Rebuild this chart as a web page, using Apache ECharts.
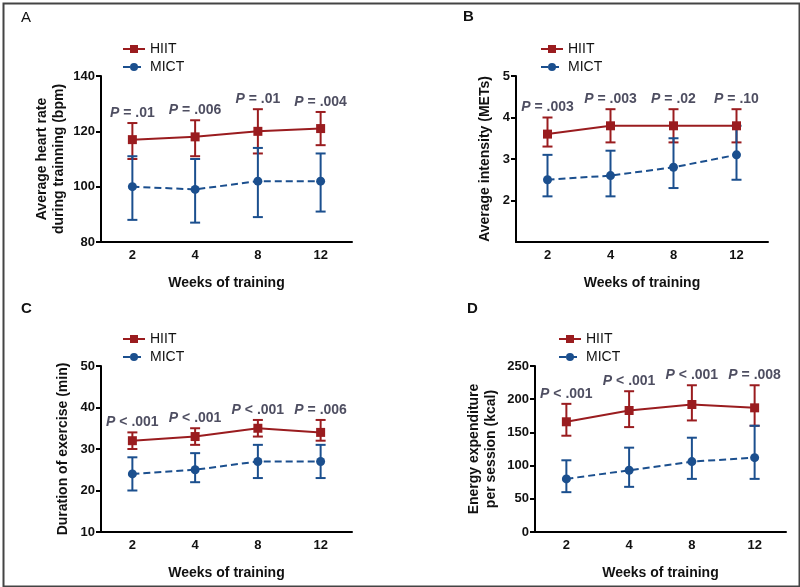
<!DOCTYPE html>
<html>
<head>
<meta charset="utf-8">
<script src="https://cdn.jsdelivr.net/npm/echarts@6/dist/echarts.min.js"></script>
<style>
html,body{margin:0;padding:0;background:#fff;}
#chart{width:800px;height:587px;}
</style>
</head>
<body>
<div id="chart"></div>
<script>
// ---------- data ----------
const weeks = ['2', '4', '8', '12'];

// Panel A: average heart rate (bpm)
const hrHIIT = [117, 118, 120, 121];
const hrHIITLow = [110, 111, 112, 115];
const hrHIITHigh = [123, 124, 128, 127];
const hrMICT = [100, 99, 102, 102];
const hrMICTLow = [88, 87, 89, 91];
const hrMICTHigh = [111, 110, 114, 112];
const hrP = ['= .01', '= .006', '= .01', '= .004'];

// Panel B: average intensity (METs)
const metHIIT = [3.6, 3.8, 3.8, 3.8];
const metHIITLow = [3.3, 3.4, 3.4, 3.4];
const metHIITHigh = [4.0, 4.2, 4.2, 4.2];
const metMICT = [2.5, 2.6, 2.8, 3.1];
const metMICTLow = [2.1, 2.1, 2.3, 2.5];
const metMICTHigh = [3.1, 3.2, 3.5, 3.8];
const metP = ['= .003', '= .003', '= .02', '= .10'];

// Panel C: duration of exercise (min)
const durHIIT = [32, 33, 35, 34];
const durHIITLow = [30, 31, 33, 32];
const durHIITHigh = [34, 35, 37, 37];
const durMICT = [24, 25, 27, 27];
const durMICTLow = [20, 22, 23, 23];
const durMICTHigh = [28, 29, 31, 31];
const durP = ['< .001', '< .001', '< .001', '= .006'];

// Panel D: energy expenditure per session (kcal)
const eeHIIT = [166, 183, 192, 187];
const eeHIITLow = [145, 158, 168, 160];
const eeHIITHigh = [193, 212, 221, 221];
const eeMICT = [80, 93, 106, 112];
const eeMICTLow = [60, 68, 80, 80];
const eeMICTHigh = [108, 127, 142, 160];
const eeP = ['< .001', '< .001', '< .001', '= .008'];

const yTicksA = [80, 100, 120, 140];
const yTicksB = [2, 3, 4, 5];
const yTicksC = [10, 20, 30, 40, 50];
const yTicksD = [0, 50, 100, 150, 200, 250];

const panelLetters = ['A', 'B', 'C', 'D'];
const yTitles = [
  'Average heart rate\nduring trainning (bpm)',
  'Average intensity (METs)',
  'Duration of exercise (min)',
  'Energy expenditure\nper session (kcal)'
];
const xTitle = 'Weeks of training';

// ---------- styling ----------
const RED = '#9a1c1f';
const BLUE = '#1b4f8e';
const PCOL = '#22223a';
const FONT = 'Liberation Sans, Arial, sans-serif';

const grids = [
  {left: 101, top: 76, width: 251, height: 166},
  {left: 516, top: 76, width: 252, height: 166},
  {left: 101, top: 366, width: 251, height: 166},
  {left: 535, top: 366, width: 251, height: 166}
];
const yRanges = [
  {min: 80, max: 140, interval: 20, ticks: yTicksA, nameGap: 33},
  {min: 1, max: 5, interval: 1, ticks: yTicksB, nameGap: 22},
  {min: 10, max: 50, interval: 10, ticks: yTicksC, nameGap: 29},
  {min: 0, max: 250, interval: 50, ticks: yTicksD, nameGap: 35}
];
const legendPos = [
  {left: 117, top: 37},
  {left: 535, top: 37},
  {left: 117, top: 327},
  {left: 553, top: 327}
];
const letterPos = [
  {left: 21, top: 10, bold: false},
  {left: 463, top: 9, bold: true},
  {left: 21, top: 301, bold: true},
  {left: 467, top: 301, bold: true}
];

const panels = [
  [hrHIIT, hrHIITLow, hrHIITHigh, hrMICT, hrMICTLow, hrMICTHigh, hrP],
  [metHIIT, metHIITLow, metHIITHigh, metMICT, metMICTLow, metMICTHigh, metP],
  [durHIIT, durHIITLow, durHIITHigh, durMICT, durMICTLow, durMICTHigh, durP],
  [eeHIIT, eeHIITLow, eeHIITHigh, eeMICT, eeMICTLow, eeMICTHigh, eeP]
];

function errRender(color) {
  return function (params, api) {
    const x = api.value(0);
    const lo = api.coord([x, api.value(1)]);
    const hi = api.coord([x, api.value(2)]);
    const w = 5;
    const style = {stroke: color, lineWidth: 2, fill: null};
    return {
      type: 'group',
      children: [
        {type: 'line', shape: {x1: hi[0], y1: hi[1], x2: lo[0], y2: lo[1]}, style: style},
        {type: 'line', shape: {x1: hi[0] - w, y1: hi[1], x2: hi[0] + w, y2: hi[1]}, style: style},
        {type: 'line', shape: {x1: lo[0] - w, y1: lo[1], x2: lo[0] + w, y2: lo[1]}, style: style}
      ]
    };
  };
}

const xAxes = [], yAxes = [], series = [], legends = [], graphics = [];

panels.forEach(function (p, i) {
  const [hM, hL, hH, mM, mL, mH, pv] = p;
  xAxes.push({
    gridIndex: i, type: 'category', data: weeks, boundaryGap: true,
    name: xTitle, nameLocation: 'middle', nameGap: 34,
    nameTextStyle: {fontFamily: FONT, fontWeight: 'bold', fontSize: 14, color: '#111'},
    axisLine: {lineStyle: {color: '#000', width: 2}},
    axisTick: {alignWithLabel: true, length: 5, lineStyle: {color: '#000', width: 2}},
    axisLabel: {fontFamily: FONT, fontWeight: 'bold', fontSize: 13, color: '#111', margin: 7},
    splitLine: {show: false}
  });
  const yr = yRanges[i];
  yAxes.push({
    gridIndex: i, type: 'value', min: yr.min, max: yr.max, interval: yr.interval,
    name: yTitles[i], nameLocation: 'middle', nameGap: yr.nameGap, nameRotate: 90,
    nameTextStyle: {fontFamily: FONT, fontWeight: 'bold', fontSize: 14, color: '#111', lineHeight: 17},
    axisLine: {show: true, lineStyle: {color: '#000', width: 2}},
    axisTick: {show: true, length: 5, lineStyle: {color: '#000', width: 2}, customValues: yr.ticks},
    axisLabel: {fontFamily: FONT, fontWeight: 'bold', fontSize: 13, color: '#111', margin: 6, customValues: yr.ticks},
    splitLine: {show: false}
  });
  series.push({
    name: 'HIIT', type: 'line', xAxisIndex: i, yAxisIndex: i,
    data: hM, symbol: 'rect', symbolSize: 9, z: 4,
    itemStyle: {color: RED}, lineStyle: {color: RED, width: 2}
  });
  series.push({
    name: 'MICT', type: 'line', xAxisIndex: i, yAxisIndex: i,
    data: mM, symbol: 'circle', symbolSize: 9, z: 4,
    itemStyle: {color: BLUE}, lineStyle: {color: BLUE, width: 2, type: [7, 4]}
  });
  series.push({
    name: 'HIIT-err', type: 'custom', xAxisIndex: i, yAxisIndex: i, z: 3,
    renderItem: errRender(RED), encode: {x: 0, y: [1, 2]},
    data: weeks.map(function (w, k) { return [w, hL[k], hH[k]]; })
  });
  series.push({
    name: 'MICT-err', type: 'custom', xAxisIndex: i, yAxisIndex: i, z: 3,
    renderItem: errRender(BLUE), encode: {x: 0, y: [1, 2]},
    data: weeks.map(function (w, k) { return [w, mL[k], mH[k]]; })
  });
  series.push({
    name: 'P', type: 'scatter', xAxisIndex: i, yAxisIndex: i, symbolSize: 0, z: 5,
    silent: true,
    data: weeks.map(function (w, k) { return {value: [w, hH[k]], p: pv[k]}; }),
    label: {
      show: true, position: 'top', distance: 3,
      formatter: function (prm) { return '{i|P} ' + prm.data.p; },
      fontFamily: FONT, fontWeight: 'bold', fontSize: 14, color: PCOL,
      rich: {i: {fontFamily: FONT, fontStyle: 'italic', fontWeight: 'bold', fontSize: 14, color: PCOL}}
    }
  });
  legends.push({
    data: ['HIIT', 'MICT'], orient: 'vertical',
    left: legendPos[i].left, top: legendPos[i].top,
    itemWidth: 22, itemHeight: 10, itemGap: 4,
    textStyle: {fontFamily: FONT, fontSize: 14, color: '#111'}
  });
  graphics.push({
    type: 'text', left: letterPos[i].left, top: letterPos[i].top,
    style: {text: panelLetters[i], font: (letterPos[i].bold ? 'bold ' : '') + '15px ' + FONT, fill: '#111'}
  });
});

graphics.push({
  type: 'rect', left: 1, top: 1,
  shape: {width: 796, height: 583},
  style: {fill: null, stroke: '#444', lineWidth: 2}
});

const chart = echarts.init(document.getElementById('chart'), null, {renderer: 'canvas'});
chart.setOption({
  animation: false,
  backgroundColor: '#fff',
  grid: grids,
  xAxis: xAxes,
  yAxis: yAxes,
  legend: legends,
  series: series,
  graphic: graphics
});
</script>
</body>
</html>
